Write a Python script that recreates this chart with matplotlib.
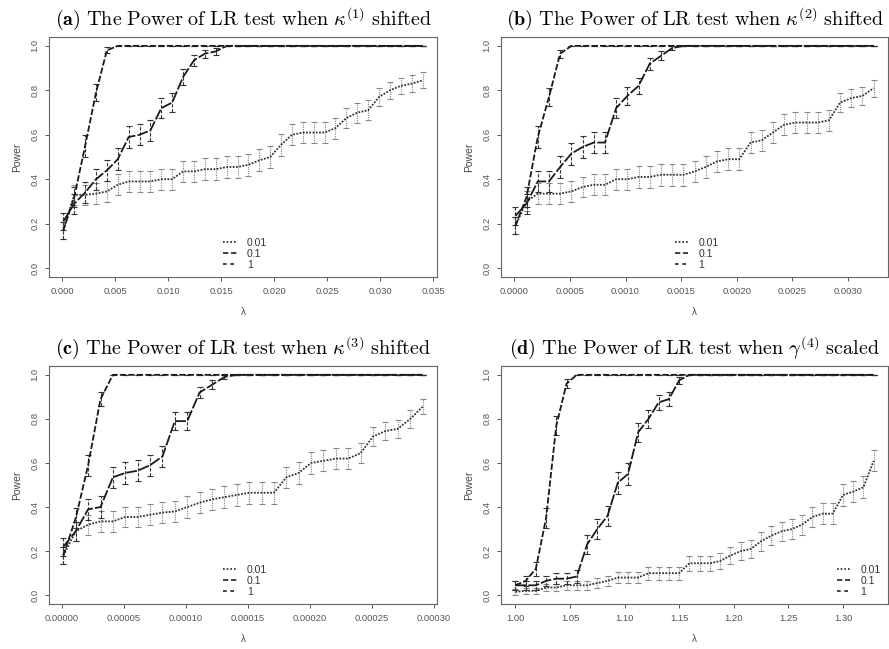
import numpy as np
import matplotlib
matplotlib.use("Agg")
import matplotlib.pyplot as plt
from matplotlib.lines import Line2D

plt.rcParams['font.family'] = ['Liberation Sans', 'DejaVu Sans']
plt.rcParams['mathtext.fontset'] = 'cm'

# x grids (lambda) for each panel
x_a = np.linspace(0.0001, 0.034, 34)
x_b = np.linspace(0.00001, 0.00323, 33)
x_c = np.linspace(0.000001, 0.000291, 30)
x_d = np.linspace(1.0, 1.328, 36)

# power values: 0.01, 0.1, 1
a_001 = [0.17, 0.33, 0.33, 0.335, 0.345, 0.375, 0.39, 0.39, 0.39, 0.40, 0.40, 0.435,
         0.435, 0.445, 0.445, 0.455, 0.455, 0.465, 0.485, 0.50, 0.555, 0.60, 0.61, 0.61,
         0.61, 0.63, 0.675, 0.70, 0.71, 0.77, 0.80, 0.82, 0.83, 0.845]
a_01 = [0.21, 0.29, 0.34, 0.40, 0.44, 0.49, 0.59, 0.60, 0.62, 0.72, 0.745, 0.86,
        0.935, 0.965, 0.975] + [1.0] * 19
a_1 = [0.17, 0.32, 0.55, 0.79, 0.98] + [1.0] * 29

b_001 = [0.19, 0.30, 0.335, 0.335, 0.335, 0.345, 0.365, 0.375, 0.375, 0.40, 0.40, 0.41,
         0.41, 0.42, 0.42, 0.42, 0.435, 0.455, 0.48, 0.49, 0.49, 0.565, 0.575, 0.61,
         0.645, 0.655, 0.655, 0.655, 0.665, 0.745, 0.765, 0.775, 0.81]
b_01 = [0.235, 0.29, 0.39, 0.39, 0.455, 0.515, 0.545, 0.565, 0.565, 0.72, 0.775, 0.82,
        0.92, 0.955, 0.99] + [1.0] * 18
b_1 = [0.19, 0.32, 0.59, 0.77, 0.965] + [1.0] * 28

c_001 = [0.18, 0.29, 0.32, 0.335, 0.335, 0.355, 0.355, 0.365, 0.375, 0.38, 0.40, 0.42,
         0.435, 0.445, 0.455, 0.465, 0.465, 0.465, 0.535, 0.555, 0.60, 0.61, 0.62, 0.62,
         0.645, 0.72, 0.745, 0.755, 0.80, 0.855]
c_01 = [0.22, 0.29, 0.39, 0.40, 0.535, 0.555, 0.565, 0.59, 0.63, 0.79, 0.79, 0.92,
        0.955, 0.99] + [1.0] * 16
c_1 = [0.18, 0.35, 0.59, 0.89] + [1.0] * 26

d_001 = [0.015, 0.02, 0.02, 0.035, 0.035, 0.045, 0.045, 0.045, 0.055, 0.065, 0.08, 0.08,
         0.08, 0.10, 0.10, 0.10, 0.10, 0.145, 0.145, 0.145, 0.155, 0.18, 0.20, 0.21,
         0.245, 0.27, 0.29, 0.30, 0.32, 0.355, 0.37, 0.37, 0.455, 0.47, 0.49, 0.61]
d_01 = [0.045, 0.045, 0.045, 0.065, 0.075, 0.075, 0.085, 0.23, 0.30, 0.36, 0.51, 0.55,
        0.74, 0.80, 0.875, 0.89, 0.975] + [1.0] * 19
d_1 = [0.045, 0.065, 0.12, 0.35, 0.77, 0.96] + [1.0] * 30

legend_labels = ["0.01", "0.1", "1"]
n_sim = 400  # replications behind the confidence bars

panels = [
    ("a", r"\kappa^{(1)}", "shifted", x_a, [a_001, a_01, a_1],
     np.arange(0, 0.0351, 0.005), "%.3f", [0.0551, 0.5732, 0.4364, 0.3698], "lower center"),
    ("b", r"\kappa^{(2)}", "shifted", x_b, [b_001, b_01, b_1],
     np.arange(0, 0.00301, 0.0005), "%.4f", [0.5636, 0.5732, 0.4353, 0.3698], "lower center"),
    ("c", r"\kappa^{(3)}", "shifted", x_c, [c_001, c_01, c_1],
     np.arange(0, 0.000301, 0.00005), "%.5f", [0.0551, 0.0693, 0.4364, 0.3667], "lower center"),
    ("d", r"\gamma^{(4)}", "scaled", x_d, [d_001, d_01, d_1],
     np.arange(1.0, 1.301, 0.05), "%.2f", [0.5636, 0.0693, 0.4353, 0.3667], "lower right"),
]

styles = [
    dict(ls=(0, (1, 0.8)), color="#333333", ecolor="#888888", els=(0, (1, 1)),
         legls=(0, (1, 1.2))),
    dict(ls=(0, (6, 1.2)), color="#1a1a1a", ecolor="#333333", els=(0, (3, 1.5)),
         legls=(0, (3.2, 1.6))),
    dict(ls=(0, (3.5, 1.2)), color="#1a1a1a", ecolor="#333333", els=(0, (3, 1.5)),
         legls=(0, (2.2, 2.2))),
]

fig = plt.figure(figsize=(8.89, 6.49), dpi=100)

for tag, sym, verb, xs, series, xticks, fmt, rect, loc in panels:
    ax = fig.add_axes(rect)
    handles = []
    for p, st, lab in zip(series, styles, legend_labels):
        p = np.array(p)
        err = 1.96 * np.sqrt(p * (1 - p) / n_sim)
        eb = ax.errorbar(xs, p, yerr=err, fmt="none", ecolor=st["ecolor"],
                         elinewidth=0.8, capsize=2.2, capthick=0.8)
        for lc in eb[2]:
            lc.set_linestyle(st["els"])
        ax.plot(xs, p, ls=st["ls"], color=st["color"], lw=1.3)
        handles.append(Line2D([], [], ls=st["legls"], color="#222222", lw=1.2, label=lab))

    span = xs[-1] - xs[0]
    ax.set_xlim(xs[0] - 0.04 * span, xs[-1] + 0.04 * span)
    ax.set_ylim(-0.04, 1.04)
    ax.set_xticks(xticks)
    ax.set_xticklabels([fmt % t for t in xticks])
    ax.set_yticks([0, 0.2, 0.4, 0.6, 0.8, 1.0])
    ax.set_yticklabels(["0.0", "0.2", "0.4", "0.6", "0.8", "1.0"], rotation=90, va="center")
    ax.tick_params(direction="out", length=3, width=0.7, colors="#555555",
                   labelsize=6.8, pad=4)
    for sp in ax.spines.values():
        sp.set_color("#666666")
        sp.set_linewidth(0.8)
    ax.set_ylabel("Power", fontsize=7.5, color="#444444", labelpad=6)
    ax.set_xlabel("λ", fontsize=7, color="#444444", labelpad=8)

    title = (r"$\mathbf{(" + tag + r")}\ \mathrm{The\ Power\ of\ LR\ test\ when}\ "
             + sym + r"\ \mathrm{" + verb + r"}$")
    ax.set_title(title, fontsize=14.5, pad=8)

    if loc == "lower center":
        leg = ax.legend(handles=handles, loc="lower left", bbox_to_anchor=(0.43, 0.0),
                        frameon=False, fontsize=7.5, handlelength=1.3, labelspacing=0.1,
                        handletextpad=1.0, borderaxespad=0.3)
    else:
        leg = ax.legend(handles=handles, loc="lower right", frameon=False, fontsize=7.5,
                        handlelength=1.3, labelspacing=0.1, handletextpad=1.0,
                        borderaxespad=0.3)
    for t in leg.get_texts():
        t.set_color("#333333")

fig.savefig("out.png", dpi=100)
